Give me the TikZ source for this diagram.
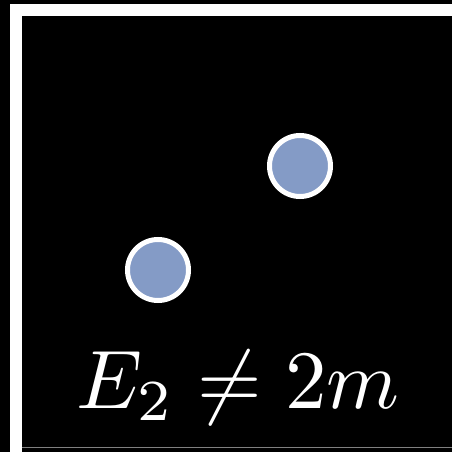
\documentclass[tikz,border=0pt]{standalone}
\usepackage{graphicx}
\definecolor{ballblue}{RGB}{132,155,198}
\begin{document}
\begin{tikzpicture}[x=1pt, y=-1pt,
    ball/.style={circle, fill=ballblue, draw=white, line width=5pt, minimum size=61pt, inner sep=0pt}]
    \fill[black] (0,0) rectangle (452,452);
    \useasboundingbox (0,0) rectangle (452,452);
    \begin{scope}
        \clip (0,0) rectangle (452,452);
        \draw[white, line width=12pt] (16,10) rectangle (480,480);
        \draw[gray, line width=1pt] (22,447.5) -- (452,447.5);
    \end{scope}
    \node[ball] (a) at (158,270) {};
    \node[ball] (b) at (300,166) {};
    \node[text=white, anchor=base, inner sep=0pt] (eq) at (238,408) {\scalebox{8.3}{$E_2 \neq 2m$}};
\end{tikzpicture}
\end{document}
